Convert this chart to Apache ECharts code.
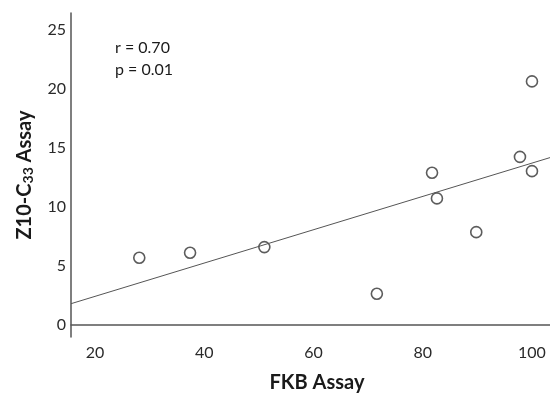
<!DOCTYPE html>
<html>
<head>
<meta charset="utf-8">
<script src="https://cdn.jsdelivr.net/npm/echarts@6/dist/echarts.min.js"></script>
<style>
  html, body { margin: 0; padding: 0; background: #fff; }
  #chart { width: 550px; height: 398px; }
</style>
</head>
<body>
<div id="chart"></div>
<script>
// FKB assay vs Z10-C33 assay
var fkb = [28.1, 37.4, 51.0, 71.6, 81.7, 82.6, 89.8, 97.8, 100.0, 100.0];
var z10 = [5.65, 6.07, 6.55, 2.6, 12.86, 10.68, 7.82, 14.2, 12.99, 20.6];
var xTicks = [20, 40, 60, 80, 100];
var yTicks = [0, 5, 10, 15, 20, 25];
var statLines = ["r = 0.70", "p = 0.01"];

var xMin = 15.6, xMax = 103.3;
var yMin = -1.07, yMax = 26.4;

// least squares fit line
var n = fkb.length, mx = 0, my = 0;
for (var i = 0; i < n; i++) { mx += fkb[i]; my += z10[i]; }
mx /= n; my /= n;
var sxy = 0, sxx = 0;
for (var i = 0; i < n; i++) {
  sxy += (fkb[i] - mx) * (z10[i] - my);
  sxx += (fkb[i] - mx) * (fkb[i] - mx);
}
var slope = sxy / sxx;
var icpt = my - slope * mx;

var points = fkb.map(function (x, i) { return [x, z10[i]]; });
var fit = [[xMin, icpt + slope * xMin], [xMax, icpt + slope * xMax]];

var font = "Lato, 'Open Sans', sans-serif";
var chart = echarts.init(document.getElementById("chart"));
chart.setOption({
  animation: false,
  grid: { left: 71, top: 13, right: 0, bottom: 60 },
  xAxis: {
    type: "value",
    min: xMin,
    max: xMax,
    name: "FKB Assay",
    nameLocation: "middle",
    nameGap: 36,
    nameTextStyle: { fontFamily: font, fontWeight: "bold", fontSize: 20, color: "#1a1a1a", padding: [0, 0, 0, 13] },
    axisLine: { lineStyle: { color: "#555", width: 1.5 } },
    axisTick: { show: false },
    splitLine: { show: false },
    axisLabel: {
      customValues: xTicks,
      fontFamily: font, fontSize: 16, color: "#2a2a2a", margin: 8
    }
  },
  yAxis: {
    type: "value",
    min: yMin,
    max: yMax,
    name: "Z10-C{sub|33} Assay",
    nameLocation: "middle",
    nameGap: 36,
    nameTextStyle: {
      fontFamily: font, fontWeight: "bold", fontSize: 20, color: "#1a1a1a",
      rich: { sub: { fontFamily: font, fontWeight: "bold", fontSize: 14, color: "#1a1a1a", verticalAlign: "bottom", padding: [7, 0, 0, 0] } }
    },
    axisLine: { show: true, lineStyle: { color: "#555", width: 1.5 } },
    axisTick: { show: false },
    splitLine: { show: false },
    axisLabel: {
      customValues: yTicks,
      fontFamily: font, fontSize: 16, color: "#2a2a2a", margin: 5
    }
  },
  graphic: [{
    type: "text",
    left: 115,
    top: 37,
    style: {
      text: statLines.join("\n"),
      font: "16px " + font,
      fill: "#1a1a1a",
      lineHeight: 22
    }
  }],
  series: [
    {
      type: "line",
      data: fit,
      symbol: "none",
      silent: true,
      lineStyle: { color: "#555", width: 1 }
    },
    {
      type: "scatter",
      data: points,
      symbol: "circle",
      symbolSize: 11,
      itemStyle: { color: "rgba(0,0,0,0)", borderColor: "#333", borderWidth: 1.6 }
    }
  ]
});
</script>
</body>
</html>
